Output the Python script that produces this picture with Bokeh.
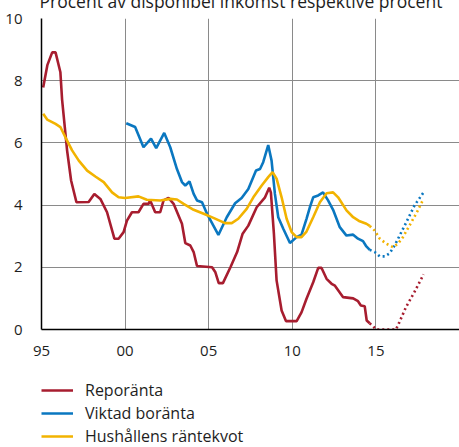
from bokeh.plotting import figure
from bokeh.layouts import column
from bokeh.models import Legend, LegendItem, FixedTicker, Range1d
from bokeh.embed import file_html
from bokeh.resources import INLINE

TITLE = "Procent av disponibel inkomst respektive procent"
X_TICKS = [1995, 2000, 2005, 2010, 2015]
X_TICK_LABELS = ["95", "00", "05", "10", "15"]
Y_TICKS = [0, 2, 4, 6, 8, 10]
SERIES_NAMES = ["Reporänta", "Viktad boränta", "Hushållens räntekvot"]

# Reporänta (utfall)
repo_year = [1995.1, 1995.35, 1995.64, 1995.84, 1996.13, 1996.23, 1996.53, 1996.77, 1997.09,
             1997.82, 1998.16, 1998.52, 1998.92, 1999.36, 1999.61, 1999.91, 2000.11, 2000.41,
             2000.8, 2001.1, 2001.4, 2001.5, 2001.8, 2002.1, 2002.3, 2002.6, 2002.9, 2003.4,
             2003.6, 2003.9, 2004.1, 2004.3, 2005.2, 2005.4, 2005.6, 2005.85, 2006.3, 2006.7,
             2007.03, 2007.37, 2007.87, 2008.37, 2008.62, 2008.72, 2008.9, 2009.06, 2009.36,
             2009.62, 2010.26, 2010.55, 2010.85, 2011.25, 2011.55, 2011.75, 2012.05, 2012.35,
             2012.55, 2013.04, 2013.64, 2013.93, 2014.1, 2014.33, 2014.45, 2014.63]
repo_val = [7.78, 8.5, 8.91, 8.91, 8.27, 7.4, 5.76, 4.79, 4.09,
            4.1, 4.36, 4.2, 3.77, 2.92, 2.92, 3.13, 3.5, 3.77,
            3.77, 4.04, 4.04, 4.15, 3.77, 3.77, 4.15, 4.23, 4.04, 3.4,
            2.78, 2.7, 2.49, 2.04, 2.0, 1.84, 1.49, 1.49, 2.0, 2.49,
            3.08, 3.34, 3.93, 4.25, 4.56, 4.4, 3.08, 1.58, 0.61,
            0.27, 0.27, 0.55, 0.99, 1.52, 1.98, 1.98, 1.63, 1.47,
            1.41, 1.04, 1.0, 0.91, 0.77, 0.75, 0.29, 0.2]
# Reporänta (prognos)
repo_fc_year = [2014.63, 2015.03, 2016.2, 2016.4, 2016.8, 2017.3, 2017.85]
repo_fc_val = [0.2, 0.0, 0.0, 0.23, 0.72, 1.2, 1.77]

# Viktad boränta (utfall)
bo_year = [2000.07, 2000.6, 2001.1, 2001.55, 2001.86, 2002.34, 2002.7, 2003.1, 2003.4, 2003.6,
           2003.85, 2004.1, 2004.3, 2004.6, 2004.9, 2005.58, 2006.08, 2006.58, 2006.97, 2007.37,
           2007.83, 2008.07, 2008.26, 2008.56, 2008.76, 2008.96, 2009.16, 2009.46, 2009.86,
           2010.26, 2010.55, 2010.85, 2011.05, 2011.25, 2011.55, 2011.84, 2012.14, 2012.44,
           2012.84, 2013.24, 2013.64, 2013.93, 2014.23, 2014.43, 2014.63]
bo_val = [6.63, 6.51, 5.86, 6.14, 5.83, 6.32, 5.86, 5.16, 4.74, 4.63,
          4.76, 4.36, 4.15, 4.09, 3.72, 3.04, 3.61, 4.06, 4.23, 4.52,
          5.11, 5.16, 5.38, 5.93, 5.43, 4.36, 3.61, 3.24, 2.78,
          2.97, 3.05, 3.56, 3.93, 4.25, 4.31, 4.41, 4.15, 3.85,
          3.29, 3.02, 3.05, 2.92, 2.84, 2.67, 2.56]
# Viktad boränta (prognos)
bo_fc_year = [2014.63, 2014.93, 2015.23, 2015.53, 2015.82, 2016.12, 2016.42, 2016.82, 2017.31, 2017.85]
bo_fc_val = [2.56, 2.49, 2.35, 2.35, 2.45, 2.7, 3.02, 3.45, 3.99, 4.41]

# Hushållens räntekvot (utfall)
rk_year = [1995.1, 1995.34, 1995.84, 1996.13, 1996.43, 1996.83, 1997.23, 1997.73, 1998.22,
           1998.72, 1999.22, 1999.61, 2000.0, 2000.8, 2001.3, 2002.1, 2002.7, 2003.1, 2003.5,
           2004.1, 2004.7, 2005.28, 2005.98, 2006.38, 2006.77, 2007.27, 2007.67, 2008.17,
           2008.56, 2008.82, 2009.06, 2009.36, 2009.66, 2009.96, 2010.26, 2010.55, 2010.85,
           2011.25, 2011.65, 2012.05, 2012.44, 2012.74, 2013.24, 2013.64, 2014.03, 2014.43, 2014.63]
rk_val = [6.94, 6.75, 6.61, 6.51, 6.18, 5.76, 5.43, 5.11, 4.92,
          4.74, 4.41, 4.25, 4.23, 4.28, 4.17, 4.15, 4.2, 4.18, 4.04,
          3.85, 3.72, 3.59, 3.42, 3.42, 3.56, 3.88, 4.25, 4.63,
          4.9, 5.06, 4.85, 4.25, 3.56, 3.13, 2.97, 2.97, 3.15,
          3.61, 4.09, 4.38, 4.41, 4.25, 3.83, 3.61, 3.48, 3.4, 3.33]
# Hushållens räntekvot (prognos)
rk_fc_year = [2014.63, 2014.93, 2015.23, 2015.62, 2016.02, 2016.32, 2016.62, 2017.12, 2017.51, 2017.8]
rk_fc_val = [3.33, 3.18, 2.92, 2.76, 2.65, 2.76, 2.97, 3.45, 3.83, 4.15]

RED = "#a71d2f"
BLUE = "#0a77c0"
YELLOW = "#f2b300"
COLORS = [RED, BLUE, YELLOW]
FONT = "Open Sans"
TEXT = "#1e1e1e"
LW = 2.6
DASH = "2 3"

p = figure(width=459, height=380, output_backend="svg", toolbar_location=None,
           x_range=Range1d(1995, 2020), y_range=Range1d(0, 10),
           min_border_left=41, min_border_right=0, min_border_top=38, min_border_bottom=31,
           margin=(-20, 0, 0, 0))
p.outline_line_color = None
p.background_fill_color = "white"
p.border_fill_color = "white"

p.title.text = TITLE
p.title.align = "left"
p.title.offset = -2
p.title.standoff = 12
p.title.text_font = FONT
p.title.text_font_size = "17.5px"
p.title.text_font_style = "normal"
p.title.text_color = TEXT

for ax in (p.xaxis[0], p.yaxis[0]):
    ax.axis_line_color = "black"
    ax.axis_line_width = 1.5
    ax.major_tick_line_color = None
    ax.minor_tick_line_color = None
    ax.major_label_text_font = FONT
    ax.major_label_text_font_size = "15px"
    ax.major_label_text_color = TEXT

p.xaxis.ticker = FixedTicker(ticks=X_TICKS)
p.xaxis.major_label_overrides = {t: l for t, l in zip(X_TICKS, X_TICK_LABELS)}
p.xaxis.major_label_standoff = 10
p.yaxis.ticker = FixedTicker(ticks=Y_TICKS)
p.yaxis.major_label_standoff = 13

p.xgrid.ticker = FixedTicker(ticks=X_TICKS)
p.ygrid.ticker = FixedTicker(ticks=Y_TICKS)
for g in (p.xgrid[0], p.ygrid[0]):
    g.grid_line_color = "#8a8a8a"
    g.grid_line_width = 1

p.line(repo_year, repo_val, color=RED, line_width=LW)
p.line(repo_fc_year, repo_fc_val, color=RED, line_width=LW, line_dash=DASH)
p.line(bo_year, bo_val, color=BLUE, line_width=LW)
p.line(bo_fc_year, bo_fc_val, color=BLUE, line_width=LW, line_dash=DASH)
p.line(rk_year, rk_val, color=YELLOW, line_width=LW)
p.line(rk_fc_year, rk_fc_val, color=YELLOW, line_width=LW, line_dash=DASH)

# legend panel (series drawn out of view so only their legend glyphs show)
lg = figure(width=459, height=87, output_backend="svg", toolbar_location=None,
            x_range=Range1d(0, 1), y_range=Range1d(0, 1),
            x_axis_type=None, y_axis_type=None,
            min_border_left=41, min_border_right=0, min_border_top=19, min_border_bottom=0)
lg.outline_line_color = None
lg.xgrid.visible = False
lg.ygrid.visible = False
items = []
for name, col, xs, ys in zip(SERIES_NAMES, COLORS,
                             [repo_year, bo_year, rk_year], [repo_val, bo_val, rk_val]):
    r = lg.line(xs, ys, color=col, line_width=LW)
    items.append(LegendItem(label=name, renderers=[r]))
legend = Legend(items=items, location="top_left", orientation="vertical",
                border_line_color=None, background_fill_alpha=0,
                padding=0, margin=0, glyph_width=32, glyph_height=20,
                label_height=20, spacing=1, label_standoff=12,
                label_text_font=FONT, label_text_font_size="16px",
                label_text_color=TEXT)
lg.add_layout(legend)

layout = column(p, lg, spacing=0)
open("out.html", "w").write(file_html(layout, INLINE))
